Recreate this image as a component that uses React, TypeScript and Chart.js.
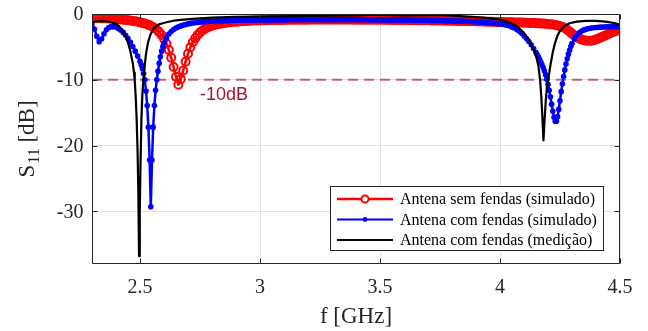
import React, { useEffect, useRef } from 'react';
import { Chart, registerables } from 'chart.js';

Chart.register(...registerables);

// ---------- Data ----------
const freqRed = [
  2.30, 2.31, 2.32, 2.33, 2.34, 2.35, 2.36, 2.37, 2.38, 2.39,
  2.40, 2.41, 2.42, 2.43, 2.44, 2.45, 2.46, 2.47, 2.48, 2.49,
  2.50, 2.51, 2.52, 2.53, 2.54, 2.55, 2.56, 2.57, 2.58, 2.59,
  2.60, 2.61, 2.62, 2.63, 2.64, 2.65, 2.66, 2.67, 2.68, 2.69,
  2.70, 2.71, 2.72, 2.73, 2.74, 2.75, 2.76, 2.77, 2.78, 2.79,
  2.80, 2.81, 2.82, 2.83, 2.84, 2.85, 2.86, 2.87, 2.88, 2.89,
  2.90, 2.91, 2.92, 2.93, 2.94, 2.95, 2.96, 2.97, 2.98, 2.99,
  3.00, 3.01, 3.02, 3.03, 3.04, 3.05, 3.06, 3.07, 3.08, 3.09,
  3.10, 3.11, 3.12, 3.13, 3.14, 3.15, 3.16, 3.17, 3.18, 3.19,
  3.20, 3.21, 3.22, 3.23, 3.24, 3.25, 3.26, 3.27, 3.28, 3.29,
  3.30, 3.31, 3.32, 3.33, 3.34, 3.35, 3.36, 3.37, 3.38, 3.39,
  3.40, 3.41, 3.42, 3.43, 3.44, 3.45, 3.46, 3.47, 3.48, 3.49,
  3.50, 3.51, 3.52, 3.53, 3.54, 3.55, 3.56, 3.57, 3.58, 3.59,
  3.60, 3.61, 3.62, 3.63, 3.64, 3.65, 3.66, 3.67, 3.68, 3.69,
  3.70, 3.71, 3.72, 3.73, 3.74, 3.75, 3.76, 3.77, 3.78, 3.79,
  3.80, 3.81, 3.82, 3.83, 3.84, 3.85, 3.86, 3.87, 3.88, 3.89,
  3.90, 3.91, 3.92, 3.93, 3.94, 3.95, 3.96, 3.97, 3.98, 3.99,
  4.00, 4.01, 4.02, 4.03, 4.04, 4.05, 4.06, 4.07, 4.08, 4.09,
  4.10, 4.11, 4.12, 4.13, 4.14, 4.15, 4.16, 4.17, 4.18, 4.19,
  4.20, 4.21, 4.22, 4.23, 4.24, 4.25, 4.26, 4.27, 4.28, 4.29,
  4.30, 4.31, 4.32, 4.33, 4.34, 4.35, 4.36, 4.37, 4.38, 4.39,
  4.40, 4.41, 4.42, 4.43, 4.44, 4.45, 4.46, 4.47, 4.48, 4.49,
  4.50,
];
const s11Red = [
  -0.60, -0.60, -0.61, -0.62, -0.63, -0.64, -0.66, -0.68, -0.70, -0.73,
  -0.76, -0.79, -0.82, -0.86, -0.90, -0.95, -1.00, -1.06, -1.12, -1.19,
  -1.27, -1.36, -1.46, -1.58, -1.72, -1.90, -2.12, -2.40, -2.75, -3.20,
  -3.78, -4.50, -5.45, -6.65, -8.05, -9.55, -10.75, -9.90, -8.60, -7.25,
  -6.05, -5.05, -4.30, -3.70, -3.20, -2.82, -2.52, -2.27, -2.07, -1.91,
  -1.78, -1.67, -1.58, -1.50, -1.43, -1.37, -1.32, -1.27, -1.23, -1.19,
  -1.16, -1.13, -1.10, -1.08, -1.06, -1.04, -1.02, -1.00, -0.99, -0.98,
  -0.97, -0.96, -0.95, -0.94, -0.93, -0.92, -0.92, -0.91, -0.90, -0.90,
  -0.89, -0.89, -0.88, -0.88, -0.87, -0.87, -0.87, -0.86, -0.86, -0.86,
  -0.86, -0.85, -0.85, -0.85, -0.85, -0.85, -0.85, -0.85, -0.85, -0.85,
  -0.85, -0.85, -0.85, -0.85, -0.85, -0.85, -0.85, -0.85, -0.85, -0.86,
  -0.86, -0.86, -0.86, -0.86, -0.87, -0.87, -0.87, -0.87, -0.88, -0.88,
  -0.88, -0.88, -0.89, -0.89, -0.89, -0.90, -0.90, -0.90, -0.91, -0.91,
  -0.92, -0.92, -0.92, -0.93, -0.93, -0.94, -0.94, -0.95, -0.95, -0.96,
  -0.96, -0.97, -0.97, -0.98, -0.99, -0.99, -1.00, -1.01, -1.01, -1.02,
  -1.03, -1.04, -1.05, -1.05, -1.06, -1.07, -1.08, -1.09, -1.10, -1.11,
  -1.12, -1.13, -1.14, -1.15, -1.16, -1.17, -1.18, -1.19, -1.20, -1.21,
  -1.22, -1.23, -1.24, -1.25, -1.26, -1.27, -1.28, -1.29, -1.30, -1.31,
  -1.32, -1.33, -1.35, -1.36, -1.38, -1.40, -1.42, -1.44, -1.46, -1.49,
  -1.52, -1.55, -1.60, -1.66, -1.74, -1.84, -1.98, -2.16, -2.40, -2.68,
  -2.98, -3.27, -3.52, -3.73, -3.89, -4.00, -4.06, -4.08, -4.05, -3.98,
  -3.88, -3.74, -3.58, -3.42, -3.25, -3.08, -2.92, -2.77, -2.62, -2.48,
  -2.35,
];

const freqBlue = [
  2.30, 2.31, 2.32, 2.33, 2.34, 2.35, 2.36, 2.37, 2.38, 2.39,
  2.40, 2.41, 2.42, 2.43, 2.44, 2.45, 2.46, 2.47, 2.48, 2.49,
  2.50, 2.505, 2.51, 2.515, 2.52, 2.525, 2.53, 2.535, 2.54, 2.545,
  2.55, 2.555, 2.56, 2.565, 2.57, 2.575, 2.58, 2.585, 2.59, 2.595,
  2.60, 2.61, 2.62, 2.63, 2.64, 2.65, 2.66, 2.67, 2.68, 2.69,
  2.70, 2.71, 2.72, 2.73, 2.74, 2.75, 2.76, 2.77, 2.78, 2.79,
  2.80, 2.81, 2.82, 2.83, 2.84, 2.85, 2.86, 2.87, 2.88, 2.89,
  2.90, 2.91, 2.92, 2.93, 2.94, 2.95, 2.96, 2.97, 2.98, 2.99,
  3.00, 3.01, 3.02, 3.03, 3.04, 3.05, 3.06, 3.07, 3.08, 3.09,
  3.10, 3.11, 3.12, 3.13, 3.14, 3.15, 3.16, 3.17, 3.18, 3.19,
  3.20, 3.21, 3.22, 3.23, 3.24, 3.25, 3.26, 3.27, 3.28, 3.29,
  3.30, 3.31, 3.32, 3.33, 3.34, 3.35, 3.36, 3.37, 3.38, 3.39,
  3.40, 3.41, 3.42, 3.43, 3.44, 3.45, 3.46, 3.47, 3.48, 3.49,
  3.50, 3.51, 3.52, 3.53, 3.54, 3.55, 3.56, 3.57, 3.58, 3.59,
  3.60, 3.61, 3.62, 3.63, 3.64, 3.65, 3.66, 3.67, 3.68, 3.69,
  3.70, 3.71, 3.72, 3.73, 3.74, 3.75, 3.76, 3.77, 3.78, 3.79,
  3.80, 3.81, 3.82, 3.83, 3.84, 3.85, 3.86, 3.87, 3.88, 3.89,
  3.90, 3.91, 3.92, 3.93, 3.94, 3.95, 3.96, 3.97, 3.98, 3.99,
  4.00, 4.01, 4.02, 4.03, 4.04, 4.05, 4.06, 4.07, 4.08, 4.09,
  4.10, 4.11, 4.12, 4.13, 4.14, 4.15, 4.155, 4.16, 4.165, 4.17,
  4.175, 4.18, 4.185, 4.19, 4.195, 4.20, 4.205, 4.21, 4.215, 4.22,
  4.225, 4.23, 4.235, 4.24, 4.245, 4.25, 4.255, 4.26, 4.265, 4.27,
  4.275, 4.28, 4.285, 4.29, 4.295, 4.30, 4.31, 4.32, 4.33, 4.34,
  4.35, 4.36, 4.37, 4.38, 4.39, 4.40, 4.41, 4.42, 4.43, 4.44,
  4.45, 4.46, 4.47, 4.48, 4.49, 4.50,
];
const s11Blue = [
  -1.50, -2.30, -3.40, -4.20, -3.80, -3.00, -2.40, -2.05, -1.92, -1.92,
  -2.02, -2.20, -2.46, -2.80, -3.22, -3.72, -4.30, -4.95, -5.65, -6.40,
  -7.20, -7.70, -8.30, -9.05, -10.0, -11.7, -13.9, -17.2, -22.2, -29.3,
  -22.2, -17.2, -13.9, -11.6, -10.0, -8.70, -7.50, -6.50, -5.65, -4.95,
  -4.40, -3.60, -3.05, -2.65, -2.35, -2.12, -1.95, -1.81, -1.69, -1.59,
  -1.50, -1.43, -1.37, -1.32, -1.27, -1.23, -1.19, -1.16, -1.13, -1.10,
  -1.08, -1.06, -1.04, -1.03, -1.02, -1.01, -1.00, -0.99, -0.98, -0.97,
  -0.96, -0.95, -0.95, -0.94, -0.94, -0.93, -0.93, -0.92, -0.92, -0.92,
  -0.91, -0.91, -0.91, -0.90, -0.90, -0.90, -0.90, -0.89, -0.89, -0.89,
  -0.89, -0.89, -0.88, -0.88, -0.88, -0.88, -0.88, -0.88, -0.88, -0.88,
  -0.88, -0.88, -0.88, -0.88, -0.88, -0.88, -0.88, -0.88, -0.88, -0.88,
  -0.88, -0.88, -0.88, -0.88, -0.88, -0.88, -0.88, -0.88, -0.88, -0.88,
  -0.88, -0.88, -0.88, -0.88, -0.88, -0.88, -0.89, -0.89, -0.89, -0.89,
  -0.89, -0.89, -0.89, -0.90, -0.90, -0.90, -0.90, -0.91, -0.91, -0.91,
  -0.92, -0.92, -0.92, -0.93, -0.93, -0.94, -0.94, -0.95, -0.95, -0.96,
  -0.96, -0.97, -0.98, -0.98, -0.99, -1.00, -1.01, -1.02, -1.03, -1.04,
  -1.05, -1.06, -1.07, -1.08, -1.09, -1.10, -1.12, -1.13, -1.15, -1.17,
  -1.19, -1.21, -1.23, -1.25, -1.28, -1.31, -1.34, -1.37, -1.41, -1.45,
  -1.50, -1.56, -1.63, -1.72, -1.83, -1.97, -2.14, -2.35, -2.60, -2.92,
  -3.30, -3.72, -4.18, -4.68, -5.25, -5.85, -6.18, -6.52, -6.90, -7.30,
  -7.72, -8.15, -8.65, -9.22, -9.90, -10.7, -11.6, -12.6, -13.7, -14.8,
  -15.7, -16.3, -16.3, -15.6, -14.5, -13.2, -11.8, -10.6, -9.50, -8.50,
  -7.60, -6.80, -6.10, -5.50, -4.95, -4.48, -3.75, -3.22, -2.85, -2.60,
  -2.42, -2.30, -2.21, -2.14, -2.09, -2.05, -2.02, -2.00, -1.98, -1.96,
  -1.95, -1.94, -1.93, -1.92, -1.91, -1.90,
];

const freqBlack = [
  2.30, 2.32, 2.34, 2.36, 2.38, 2.40, 2.41, 2.42, 2.43, 2.44,
  2.45, 2.46, 2.47, 2.475, 2.478, 2.482, 2.486, 2.49, 2.493, 2.496,
  2.499, 2.502, 2.506, 2.51, 2.514, 2.52, 2.525, 2.53, 2.535, 2.545,
  2.555, 2.565, 2.58, 2.61, 2.64, 2.67, 2.72, 2.80, 2.90, 3.00,
  3.10, 3.20, 3.30, 3.40, 3.45, 3.50, 3.60, 3.70, 3.75, 3.80,
  3.85, 3.90, 3.95, 4.00, 4.03, 4.06, 4.08, 4.10, 4.12, 4.13,
  4.14, 4.15, 4.16, 4.167, 4.172, 4.177, 4.181, 4.186, 4.191, 4.196,
  4.201, 4.21, 4.215, 4.22, 4.23, 4.24, 4.25, 4.27, 4.29, 4.32,
  4.36, 4.40, 4.44, 4.48, 4.50,
];
const s11Black = [
  -1.25, -1.10, -1.05, -1.10, -1.25, -1.50, -1.75, -2.15, -2.75, -3.45,
  -4.35, -5.70, -7.50, -8.90, -10.0, -12.5, -16.0, -21.0, -27.0, -36.8,
  -30.0, -23.0, -16.0, -12.2, -10.0, -7.70, -6.10, -5.00, -4.10, -3.00,
  -2.35, -1.95, -1.55, -1.25, -1.02, -0.90, -0.75, -0.55, -0.45, -0.40,
  -0.35, -0.30, -0.25, -0.20, -0.12, -0.15, -0.20, -0.18, -0.15, -0.25,
  -0.35, -0.48, -0.62, -0.85, -1.15, -1.60, -2.15, -2.90, -3.85, -4.50,
  -5.30, -6.30, -7.90, -10.0, -12.5, -16.0, -19.2, -16.0, -13.0, -11.0,
  -10.0, -7.80, -6.80, -5.80, -4.30, -3.25, -2.55, -1.80, -1.40, -1.15,
  -1.05, -1.05, -1.15, -1.40, -1.60,
];

const xTicks = [2.5, 3, 3.5, 4, 4.5];
const yTicks = [-30, -20, -10, 0];
const xRange = [2.3, 4.5];
const yRange = [-38, 0];
const thresholdDb = -10;
const thresholdLabel = '-10dB';
const seriesLabels = [
  'Antena sem fendas (simulado)',
  'Antena com fendas (simulado)',
  'Antena com fendas (medição)',
];

// ---------- Styles ----------
const RED = '#ff0000';
const BLUE = '#0000ff';
const BLACK = '#000000';
const THRESH_LINE = 'rgba(162,20,47,0.62)';
const THRESH_TEXT = '#a2142f';
const AXIS = '#262626';
const SERIF = '"Liberation Serif", "Times New Roman", serif';
const SANS = '"Liberation Sans", Arial, sans-serif';

function toPoints(xs: number[], ys: number[]) {
  return xs.map((x, i) => ({ x, y: ys[i] }));
}

const decorPlugin = {
  id: 'decor',
  afterDraw(chart: any) {
    const ctx = chart.ctx as CanvasRenderingContext2D;
    const { left, right, top, bottom } = chart.chartArea;
    const xs = chart.scales.x;
    const ys = chart.scales.y;
    const L = Math.round(left) + 0.5;
    const R = Math.round(right) - 0.5;
    const T = Math.round(top) + 0.5;
    const B = Math.round(bottom) - 0.5;
    ctx.save();

    // threshold label
    ctx.font = `18px ${SANS}`;
    ctx.fillStyle = THRESH_TEXT;
    ctx.textAlign = 'left';
    ctx.textBaseline = 'alphabetic';
    ctx.fillText(thresholdLabel, xs.getPixelForValue(2.75), ys.getPixelForValue(-13.1));

    // axes box
    ctx.strokeStyle = AXIS;
    ctx.lineWidth = 1;
    ctx.beginPath();
    ctx.rect(L, T, R - L, B - T);
    ctx.stroke();

    // inward ticks
    const tl = 5;
    ctx.beginPath();
    xTicks.forEach((v) => {
      const x = Math.round(xs.getPixelForValue(v)) + 0.5;
      ctx.moveTo(x, B); ctx.lineTo(x, B - tl);
      ctx.moveTo(x, T); ctx.lineTo(x, T + tl);
    });
    yTicks.forEach((v) => {
      const y = Math.round(ys.getPixelForValue(v)) + 0.5;
      ctx.moveTo(L, y); ctx.lineTo(L + tl, y);
      ctx.moveTo(R, y); ctx.lineTo(R - tl, y);
    });
    ctx.stroke();

    // tick labels
    ctx.fillStyle = AXIS;
    ctx.font = `20px ${SERIF}`;
    ctx.textAlign = 'center';
    ctx.textBaseline = 'alphabetic';
    xTicks.forEach((v) => {
      ctx.fillText(String(v), xs.getPixelForValue(v), 293);
    });
    ctx.textAlign = 'right';
    ctx.textBaseline = 'middle';
    yTicks.forEach((v) => {
      ctx.fillText(String(v), left - 8.5, ys.getPixelForValue(v) + 1);
    });

    // x title
    ctx.font = `23px ${SERIF}`;
    ctx.textAlign = 'center';
    ctx.textBaseline = 'alphabetic';
    ctx.fillText('f [GHz]', (left + right) / 2, 323);

    // y title with subscript
    ctx.save();
    ctx.translate(33.5, (top + bottom) / 2);
    ctx.rotate(-Math.PI / 2);
    ctx.textAlign = 'left';
    ctx.textBaseline = 'alphabetic';
    const mainFont = `23px ${SERIF}`;
    const subFont = `16px ${SERIF}`;
    ctx.font = mainFont;
    const wS = ctx.measureText('S').width;
    const wRest = ctx.measureText(' [dB]').width;
    ctx.font = subFont;
    const wSub = ctx.measureText('11').width;
    const total = wS + wSub + 1 + wRest;
    let cx = -total / 2;
    ctx.font = mainFont;
    ctx.fillText('S', cx, 0);
    cx += wS + 1;
    ctx.font = subFont;
    ctx.fillText('11', cx, 5);
    cx += wSub;
    ctx.font = mainFont;
    ctx.fillText(' [dB]', cx, 0);
    ctx.restore();

    // legend
    const bx = 330.5, by = 186.5, bw = 273, bh = 64;
    ctx.fillStyle = '#ffffff';
    ctx.fillRect(bx, by, bw, bh);
    ctx.strokeStyle = AXIS;
    ctx.lineWidth = 1;
    ctx.strokeRect(bx, by, bw, bh);
    const rows = [199, 219.5, 240];
    const colors = [RED, BLUE, BLACK];
    rows.forEach((ry, i) => {
      ctx.strokeStyle = colors[i];
      ctx.lineWidth = i === 0 ? 2.5 : 2;
      ctx.beginPath();
      ctx.moveTo(337, ry);
      ctx.lineTo(393, ry);
      ctx.stroke();
      if (i === 0) {
        ctx.lineWidth = 2;
        ctx.beginPath();
        ctx.arc(365, ry, 3.5, 0, Math.PI * 2);
        ctx.fillStyle = '#ffffff';
        ctx.fill();
        ctx.stroke();
      } else if (i === 1) {
        ctx.fillStyle = BLUE;
        ctx.beginPath();
        ctx.arc(365, ry, 2.4, 0, Math.PI * 2);
        ctx.fill();
      }
      ctx.fillStyle = '#000000';
      ctx.font = `16px ${SERIF}`;
      ctx.textAlign = 'left';
      ctx.textBaseline = 'middle';
      ctx.fillText(seriesLabels[i], 400, ry + 1);
    });

    ctx.restore();
  },
};

export default function App() {
  const canvasRef = useRef<HTMLCanvasElement | null>(null);

  useEffect(() => {
    const canvas = canvasRef.current;
    if (!canvas) return;
    const chart = new Chart(canvas, {
      type: 'line',
      data: {
        datasets: [
          {
            label: seriesLabels[0],
            data: toPoints(freqRed, s11Red),
            borderColor: RED,
            borderWidth: 2.5,
            pointRadius: 4,
            pointBorderWidth: 2,
            pointBorderColor: RED,
            pointBackgroundColor: 'rgba(0,0,0,0)',
            pointStyle: 'circle',
            borderJoinStyle: 'round',
            tension: 0,
            order: 3,
          },
          {
            label: seriesLabels[1],
            data: toPoints(freqBlue, s11Blue),
            borderColor: BLUE,
            borderWidth: 2.5,
            pointRadius: 2.8,
            pointBorderWidth: 0,
            pointBackgroundColor: BLUE,
            pointBorderColor: BLUE,
            borderJoinStyle: 'round',
            tension: 0,
            order: 2,
          },
          {
            label: seriesLabels[2],
            data: toPoints(freqBlack, s11Black),
            borderColor: BLACK,
            borderWidth: 2.2,
            pointRadius: 0,
            borderJoinStyle: 'round',
            tension: 0,
            order: 1,
          },
          {
            label: thresholdLabel,
            data: [
              { x: xRange[0], y: thresholdDb },
              { x: xRange[1], y: thresholdDb },
            ],
            borderColor: THRESH_LINE,
            borderWidth: 2,
            borderDash: [10, 6],
            pointRadius: 0,
            order: 4,
          },
        ],
      },
      options: {
        animation: false,
        responsive: false,
        maintainAspectRatio: false,
        events: [],
        layout: { padding: { left: 0, top: 14, right: 28, bottom: 0 } },
        plugins: { legend: { display: false }, tooltip: { enabled: false } },
        scales: {
          x: {
            type: 'linear',
            min: xRange[0],
            max: xRange[1],
            afterBuildTicks: (axis: any) => {
              axis.ticks = xTicks.map((v) => ({ value: v }));
            },
            afterFit: (scale: any) => {
              scale.height = 67;
            },
            ticks: { display: false },
            grid: { color: '#e2e2e2', lineWidth: 1, drawTicks: false },
            border: { display: false },
          },
          y: {
            type: 'linear',
            min: yRange[0],
            max: yRange[1],
            afterBuildTicks: (axis: any) => {
              axis.ticks = yTicks.map((v) => ({ value: v }));
            },
            afterFit: (scale: any) => {
              scale.width = 92;
            },
            ticks: { display: false },
            grid: { color: '#e2e2e2', lineWidth: 1, drawTicks: false },
            border: { display: false },
          },
        },
      },
      plugins: [decorPlugin],
    } as any);
    return () => chart.destroy();
  }, []);

  return (
    <div style={{ position: 'fixed', left: 0, top: 0, width: 648, height: 331, background: '#ffffff' }}>
      <canvas ref={canvasRef} width={648} height={331} style={{ display: 'block', width: 648, height: 331 }} />
    </div>
  );
}
